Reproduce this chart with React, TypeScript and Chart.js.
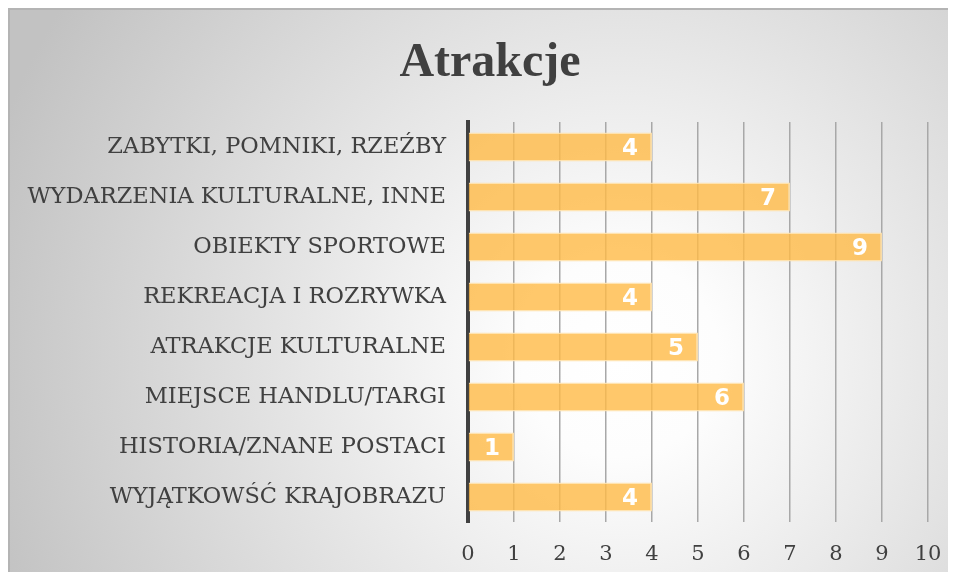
import React, { useEffect, useRef } from "react";
import { Chart, registerables } from "chart.js";

Chart.register(...registerables);

const categories = [
  "ZABYTKI, POMNIKI, RZEŹBY",
  "WYDARZENIA KULTURALNE, INNE",
  "OBIEKTY SPORTOWE",
  "REKREACJA I ROZRYWKA",
  "ATRAKCJE KULTURALNE",
  "MIEJSCE HANDLU/TARGI",
  "HISTORIA/ZNANE POSTACI",
  "WYJĄTKOWŚĆ KRAJOBRAZU",
];
const values = [4, 7, 9, 4, 5, 6, 1, 4];
const titleText = "Atrakcje";
const xMin = 0;
const xMax = 10;
const xStep = 1;

const W = 948;
const H = 572;

const bgPlugin = {
  id: "bgPlugin",
  beforeDraw(chart: any) {
    const { ctx, width, height } = chart;
    ctx.save();
    const g = ctx.createRadialGradient(612, 350, 0, 612, 350, 660);
    g.addColorStop(0, "#ffffff");
    g.addColorStop(0.15, "#fdfdfd");
    g.addColorStop(1, "#c2c2c2");
    ctx.fillStyle = g;
    ctx.fillRect(0, 0, width, height);
    ctx.strokeStyle = "#b4b4b4";
    ctx.lineWidth = 2;
    ctx.beginPath();
    ctx.moveTo(1, height);
    ctx.lineTo(1, 1);
    ctx.lineTo(width, 1);
    ctx.stroke();
    // title
    ctx.fillStyle = "#404040";
    ctx.font = "bold 48px 'Liberation Serif'";
    ctx.textAlign = "center";
    ctx.textBaseline = "alphabetic";
    ctx.fillText(titleText, 482, 68);
    ctx.restore();
  },
};

const labelPlugin = {
  id: "labelPlugin",
  afterDatasetsDraw(chart: any) {
    const { ctx } = chart;
    const meta = chart.getDatasetMeta(0);
    ctx.save();
    ctx.fillStyle = "#ffffff";
    ctx.font = "bold 23px 'DejaVu Sans'";
    ctx.textAlign = "right";
    ctx.textBaseline = "middle";
    meta.data.forEach((bar: any, i: number) => {
      ctx.fillText(String(values[i]), bar.x - 14, bar.y + 2);
    });
    ctx.restore();
  },
};

export default function App() {
  const ref = useRef<HTMLCanvasElement>(null);
  useEffect(() => {
    if (!ref.current) return;
    const chart = new Chart(ref.current, {
      type: "bar",
      data: {
        labels: categories,
        datasets: [
          {
            data: values,
            backgroundColor: "rgba(255,186,70,0.8)",
            borderColor: "rgba(255,225,170,0.9)",
            borderWidth: 1.5,
            barPercentage: 0.58,
            categoryPercentage: 1,
          },
        ],
      },
      options: {
        indexAxis: "y",
        animation: false,
        responsive: false,
        maintainAspectRatio: false,
        devicePixelRatio: 1,
        layout: { padding: { top: 114, right: 28, bottom: 0, left: 0 } },
        plugins: {
          legend: { display: false },
          tooltip: { enabled: false },
          title: { display: false },
        },
        scales: {
          x: {
            min: xMin,
            max: xMax,
            ticks: {
              stepSize: xStep,
              color: "#404040",
              font: { family: "'DejaVu Serif'", size: 21 },
              padding: 2,
            },
            grid: {
              color: "#a8a8a8",
              lineWidth: 1.5,
              drawTicks: true,
              tickLength: 18,
              tickColor: "rgba(0,0,0,0)",
            },
            border: { display: false },
            afterFit(axis: any) {
              axis.height = 58;
            },
          },
          y: {
            ticks: {
              color: "#404040",
              font: { family: "'DejaVu Serif'", size: 22.5 },
              padding: 22,
            },
            grid: { display: false, drawTicks: false },
            border: { display: true, color: "#404040", width: 4 },
            afterFit(axis: any) {
              axis.width = 460;
            },
          },
        },
      },
      plugins: [bgPlugin, labelPlugin],
    } as any);
    return () => chart.destroy();
  }, []);
  return (
    <div style={{ width: W, height: H, marginBottom: -8 }}>
      <canvas ref={ref} width={W} height={H} style={{ display: "block", width: W, height: H }} />
    </div>
  );
}
